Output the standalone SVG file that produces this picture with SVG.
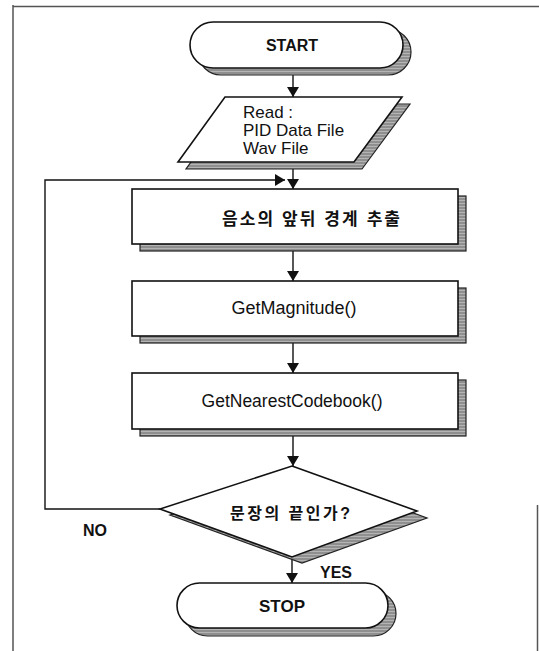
<svg xmlns="http://www.w3.org/2000/svg" width="539" height="651" viewBox="0 0 539 651">
<style>
.main{fill:#fff;stroke:#111;stroke-width:1.6}
.shadow{fill:url(#hatch);stroke:#222;stroke-width:1.2}
.conn{fill:none;stroke:#111;stroke-width:1.4}
.lat{font-family:"Liberation Sans",Arial,sans-serif;fill:#111}
.kor{font-family:"Liberation Sans","Noto Sans CJK KR",sans-serif;font-weight:bold;fill:#111}
.border{stroke:#555;stroke-width:1.5;fill:none}
</style>
<defs>
<pattern id="hatch" width="6" height="3" patternUnits="userSpaceOnUse">
<rect width="6" height="3" fill="#b4b4b4"/>
<line x1="0" y1="1" x2="6" y2="1" stroke="#6a6a6a" stroke-width="1"/>
</pattern>
<marker id="ah" markerWidth="10" markerHeight="12" refX="10" refY="6" orient="auto" markerUnits="userSpaceOnUse">
<path d="M0,0 L10,6 L0,12 Z" fill="#111"/>
</marker>
</defs>
<g id="page-border">
<line class="border" x1="13" y1="6.5" x2="539" y2="6.5"/>
<line class="border" x1="13" y1="5" x2="13" y2="651"/>
<line class="border" x1="537.5" y1="505" x2="537.5" y2="651"/>
</g>
<g id="connectors">
<line class="conn" x1="293" y1="75" x2="293" y2="97" marker-end="url(#ah)"/>
<line class="conn" x1="293" y1="162" x2="293" y2="189" marker-end="url(#ah)"/>
<polyline class="conn" points="160,509 45,509 45,180 285,180" marker-end="url(#ah)"/>
<line class="conn" x1="293" y1="251" x2="293" y2="281" marker-end="url(#ah)"/>
<line class="conn" x1="293" y1="343" x2="293" y2="373" marker-end="url(#ah)"/>
<line class="conn" x1="293" y1="436" x2="293" y2="466" marker-end="url(#ah)"/>
<line class="conn" x1="292" y1="557" x2="292" y2="583" marker-end="url(#ah)"/>
<text class="lat" x="83" y="536" font-size="16" font-weight="bold">NO</text>
<text class="lat" x="320" y="578" font-size="16" font-weight="bold">YES</text>
</g>
<g id="start">
<rect class="shadow" x="198" y="29" width="213" height="46" rx="23"/>
<rect class="main" x="190" y="22" width="213" height="46" rx="23"/>
<text class="lat" x="292" y="51" font-size="16" font-weight="bold" text-anchor="middle">START</text>
</g>
<g id="read">
<polygon class="shadow" points="233,104 410,104 362,169 186,169"/>
<polygon class="main" points="225,97 402,97 354,162 178,162"/>
<text class="lat" x="243" y="118" font-size="17">Read :</text>
<text class="lat" x="243" y="136" font-size="17">PID Data File</text>
<text class="lat" x="243" y="154" font-size="17">Wav File</text>
</g>
<g id="boundary">
<rect class="shadow" x="140" y="196" width="326" height="55"/>
<rect class="main" x="132" y="189" width="326" height="55"/>
<text class="kor" x="222" y="225" font-size="17" textLength="178" lengthAdjust="spacing">음소의 앞뒤 경계 추출</text>
</g>
<g id="magnitude">
<rect class="shadow" x="140" y="288" width="326" height="55"/>
<rect class="main" x="132" y="281" width="326" height="55"/>
<text class="lat" x="294" y="314" font-size="18" text-anchor="middle">GetMagnitude()</text>
</g>
<g id="codebook">
<rect class="shadow" x="140" y="380" width="326" height="56"/>
<rect class="main" x="132" y="373" width="326" height="56"/>
<text class="lat" x="292" y="407" font-size="17.5" text-anchor="middle">GetNearestCodebook()</text>
</g>
<g id="decision">
<polygon class="shadow" points="302,472 427,518 302,563 170,515"/>
<polygon class="main" points="292,466 417,511 292,557 160,509"/>
<text class="kor" x="230" y="519" font-size="16" textLength="120" lengthAdjust="spacing">문장의 끝인가?</text>
</g>
<g id="stop">
<rect class="shadow" x="185" y="591" width="211" height="45" rx="22.5"/>
<rect class="main" x="177" y="583" width="211" height="45" rx="22.5"/>
<text class="lat" x="282" y="612" font-size="17" font-weight="bold" text-anchor="middle">STOP</text>
</g>
</svg>
